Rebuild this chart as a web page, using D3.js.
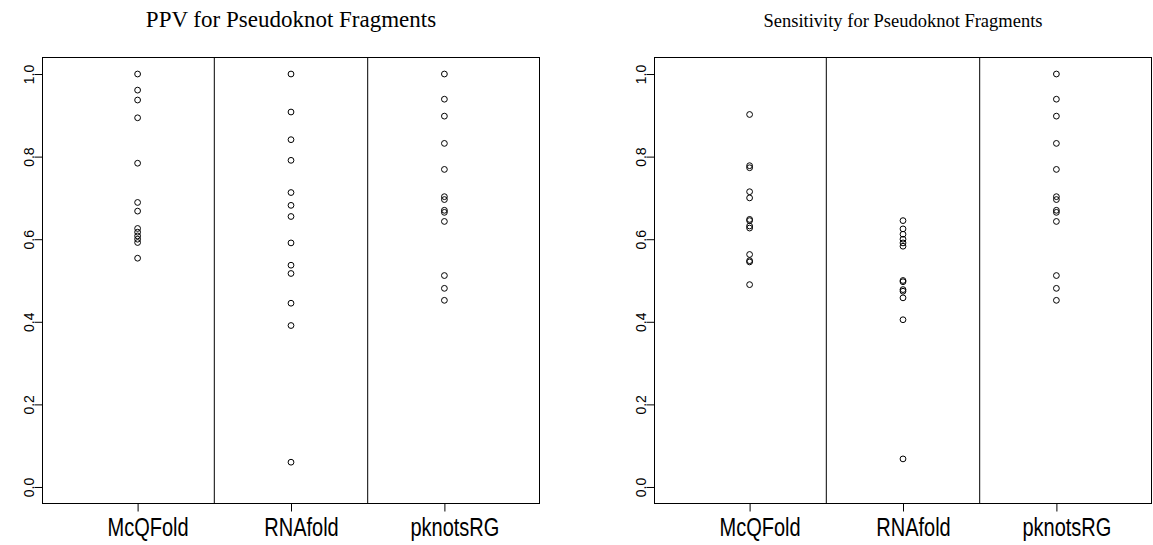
<!DOCTYPE html>
<html>
<head>
<meta charset="utf-8">
<script src="https://cdn.jsdelivr.net/npm/d3@7"></script>
<style>
  html, body { margin: 0; padding: 0; background: #fff; }
  svg { display: block; }
</style>
</head>
<body>
<svg id="chart" width="1153" height="545"></svg>
<script>
// Methods compared on the x axis
const categories = ["McQFold", "RNAfold", "pknotsRG"];

// PPV values per method
const ppvMcQFold  = [1.000, 0.961, 0.937, 0.894, 0.784, 0.689, 0.668, 0.626, 0.617, 0.608, 0.600, 0.592, 0.554];
const ppvRNAfold  = [1.000, 0.908, 0.841, 0.791, 0.713, 0.682, 0.655, 0.591, 0.537, 0.517, 0.445, 0.391, 0.060];
const ppvPknotsRG = [1.000, 0.939, 0.898, 0.832, 0.769, 0.703, 0.696, 0.670, 0.665, 0.643, 0.512, 0.481, 0.452];

// Sensitivity values per method
const sensMcQFold  = [0.902, 0.778, 0.773, 0.715, 0.700, 0.648, 0.645, 0.632, 0.627, 0.563, 0.548, 0.545, 0.490];
const sensRNAfold  = [0.645, 0.625, 0.612, 0.600, 0.591, 0.583, 0.500, 0.497, 0.478, 0.474, 0.458, 0.405, 0.068];
const sensPknotsRG = [1.000, 0.939, 0.898, 0.832, 0.769, 0.703, 0.696, 0.670, 0.665, 0.643, 0.512, 0.481, 0.452];

const yTicks = [0.0, 0.2, 0.4, 0.6, 0.8, 1.0];
const titles = ["PPV for Pseudoknot Fragments", "Sensitivity for Pseudoknot Fragments"];

const panels = [
  { title: titles[0], titleSize: 23, series: [ppvMcQFold, ppvRNAfold, ppvPknotsRG], left: 42.5 },
  { title: titles[1], titleSize: 18.5, series: [sensMcQFold, sensRNAfold, sensPknotsRG], left: 654.5 }
];

const svg = d3.select("#chart");
const plotW = 497, plotTop = 57.5, plotBottom = 503.5;
const sans = "'Liberation Sans', Arial, Helvetica, sans-serif";

// y range padded 4% either side of [0, 1]
const y = d3.scaleLinear().domain([-0.04, 1.04]).range([plotBottom, plotTop]);

panels.forEach(p => {
  const g = svg.append("g");
  // x range padded 4% either side of [0.5, 3.5]
  const x = d3.scaleLinear().domain([0.38, 3.62]).range([p.left, p.left + plotW]);

  // title
  g.append("text")
    .attr("x", p.left + plotW / 2)
    .attr("y", 27)
    .attr("text-anchor", "middle")
    .attr("font-family", "'Liberation Serif', 'Times New Roman', serif")
    .attr("font-size", p.titleSize)
    .attr("fill", "#000")
    .text(p.title);

  // separators between method columns
  [1.5, 2.5].forEach(v => {
    g.append("line")
      .attr("x1", x(v)).attr("x2", x(v))
      .attr("y1", plotTop).attr("y2", plotBottom)
      .attr("stroke", "#000").attr("stroke-width", 1);
  });

  // y axis
  const yAxis = g.append("g")
    .attr("transform", `translate(${p.left},0)`)
    .call(d3.axisLeft(y).tickValues(yTicks).tickFormat(d3.format(".1f")).tickSize(8).tickPadding(0));
  yAxis.select(".domain").remove();
  yAxis.selectAll(".tick line").attr("stroke", "#000");
  yAxis.selectAll(".tick text")
    .attr("font-family", sans)
    .attr("font-size", 14)
    .attr("fill", "#000")
    .attr("text-anchor", "middle")
    .attr("dy", null)
    .attr("x", null)
    .attr("transform", "translate(-9,0) rotate(-90)")
    .attr("y", 0);

  // x axis with condensed method names
  const xAxis = g.append("g")
    .attr("transform", `translate(0,${plotBottom})`)
    .call(d3.axisBottom(x).tickValues([1, 2, 3]).tickFormat(d => categories[d - 1]).tickSize(8).tickPadding(0));
  xAxis.select(".domain").remove();
  xAxis.selectAll(".tick line").attr("stroke", "#000");
  xAxis.selectAll(".tick text")
    .attr("font-family", sans)
    .attr("font-size", 25)
    .attr("fill", "#000")
    .attr("text-anchor", "middle")
    .attr("x", 10)
    .attr("dy", null)
    .attr("y", 32)
    .each(function () {
      const w = this.getComputedTextLength();
      d3.select(this).attr("textLength", w * 0.8).attr("lengthAdjust", "spacingAndGlyphs");
    });

  // frame
  g.append("rect")
    .attr("x", p.left).attr("y", plotTop)
    .attr("width", plotW).attr("height", plotBottom - plotTop)
    .attr("fill", "none").attr("stroke", "#000").attr("stroke-width", 1);

  // points
  p.series.forEach((vals, i) => {
    g.append("g").selectAll("circle")
      .data(vals)
      .join("circle")
      .attr("cx", x(i + 1))
      .attr("cy", d => y(d))
      .attr("r", 2.9)
      .attr("fill", "none")
      .attr("stroke", "#000")
      .attr("stroke-width", 1);
  });
});
</script>
</body>
</html>
